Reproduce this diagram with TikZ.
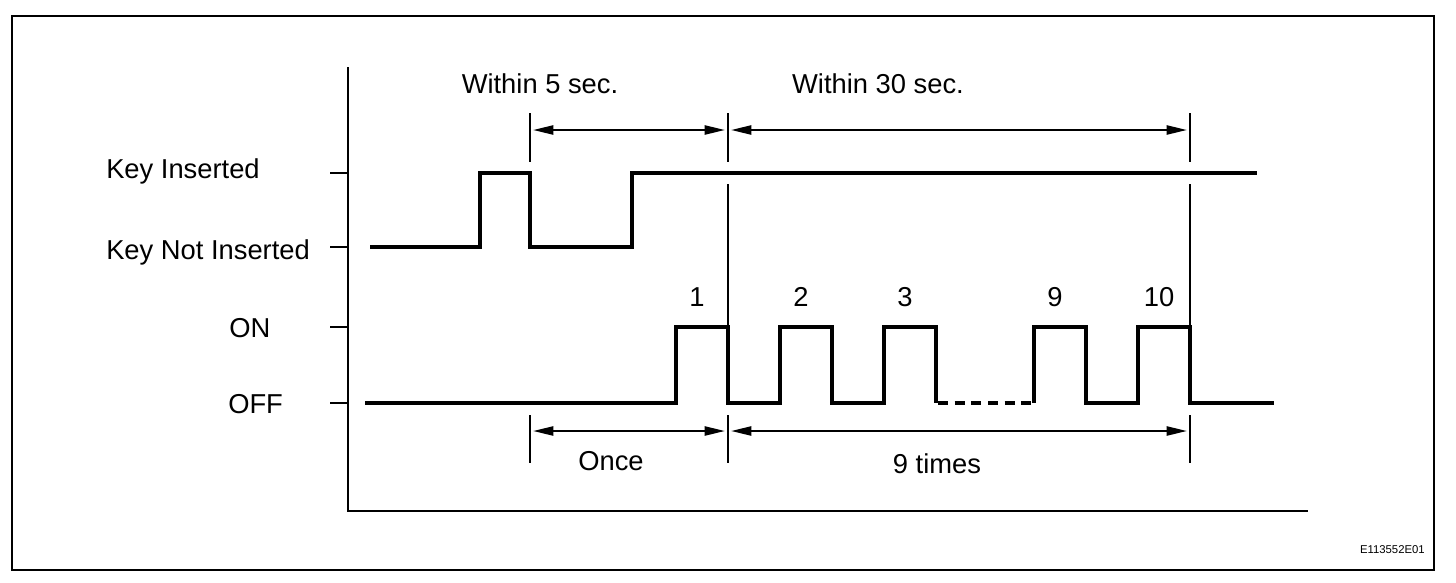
\documentclass[tikz,border=0pt]{standalone}
\usepackage{fontspec}
\setmainfont{Liberation Sans}
\usetikzlibrary{arrows.meta}
\tikzset{
  frame/.style   ={draw=black,line width=2pt},
  axis/.style    ={black,line width=1.1pt},
  tick/.style    ={black,line width=1.1pt},
  sig/.style     ={black,line width=3pt,line join=miter},
  sigdash/.style ={sig,dash pattern=on 7.5pt off 5pt},
  guide/.style   ={black,line width=0.9pt},
  dim/.style     ={{Triangle[length=15pt,width=7pt]}-{Triangle[length=15pt,width=7pt]},
                   black,line width=1pt},
  lbl/.style     ={font=\fontsize{20.5}{24}\selectfont,inner sep=0pt},
  code/.style    ={font=\fontsize{8.5}{10}\selectfont,inner sep=0pt},
}
\begin{document}
\begin{tikzpicture}[x=0.75pt,y=-0.75pt]
\useasboundingbox (0,0) rectangle (1456,582);
\draw[frame] (12,16) rectangle (1434,570);

% axes and level ticks
\draw[axis] (348,67) -- (348,511) -- (1308,511);
\foreach \lv/\yy in {kin/173,knot/247,on/327,off/403}
  \draw[tick] (330,\yy) -- (348,\yy);

% level labels
\node[lbl,anchor=base west] (lKin)  at (106,178) {Key Inserted};
\node[lbl,anchor=base west] (lKnot) at (106,259) {Key Not Inserted};
\node[lbl,anchor=base west] (lOn)   at (229,337) {ON};
\node[lbl,anchor=base west] (lOff)  at (228,413) {OFF};

% key signal
\draw[sig] (370,247) -| (480,173) -| (530,247) -| (632,173) -- (1257,173);

% switch signal
\draw[sig] (365,403) -| (676,327) -| (728,403) -| (780,327) -| (832,403)
  -| (884,327) -| (936,403);
\draw[sigdash] (938,403) -- (1034,403);
\draw[sig] (1034,403) |- (1086,327) -| (1086,403) -| (1138,327) -| (1190,403)
  -- (1274,403);
\foreach \x/\n in {676/1,780/2,884/3,1034/9,1138/10}
  \node[lbl,anchor=base] (n\n) at (\x+21,306) {\n};

% guide lines
\foreach \x/\g in {530/a,728/b,1190/c}{
  \coordinate (top\g) at (\x,130);
  \coordinate (bot\g) at (\x,431);
  \draw[guide] (\x,113) -- (\x,162);
  \draw[guide] (\x,415) -- (\x,463);
}
\draw[guide] (728,184) -- (728,327);
\draw[guide] (1190,184) -- (1190,327);

% time spans
\draw[dim] ([xshift=2.5pt]topa) -- ([xshift=-2.5pt]topb);
\draw[dim] ([xshift=2.5pt]topb) -- ([xshift=-2.5pt]topc);
\draw[dim] ([xshift=2.5pt]bota) -- ([xshift=-2.5pt]botb);
\draw[dim] ([xshift=2.5pt]botb) -- ([xshift=-2.5pt]botc);
\node[lbl,anchor=base] (w5)   at (540,93) {Within 5 sec.};
\node[lbl,anchor=base] (w30)  at (878,93) {Within 30 sec.};
\node[lbl,anchor=base] (once) at (611,470) {Once};
\node[lbl,anchor=base] (nine) at (937,473) {9 times};

\node[code,anchor=base east] (fig) at (1425,553) {E113552E01};
\end{tikzpicture}
\end{document}
